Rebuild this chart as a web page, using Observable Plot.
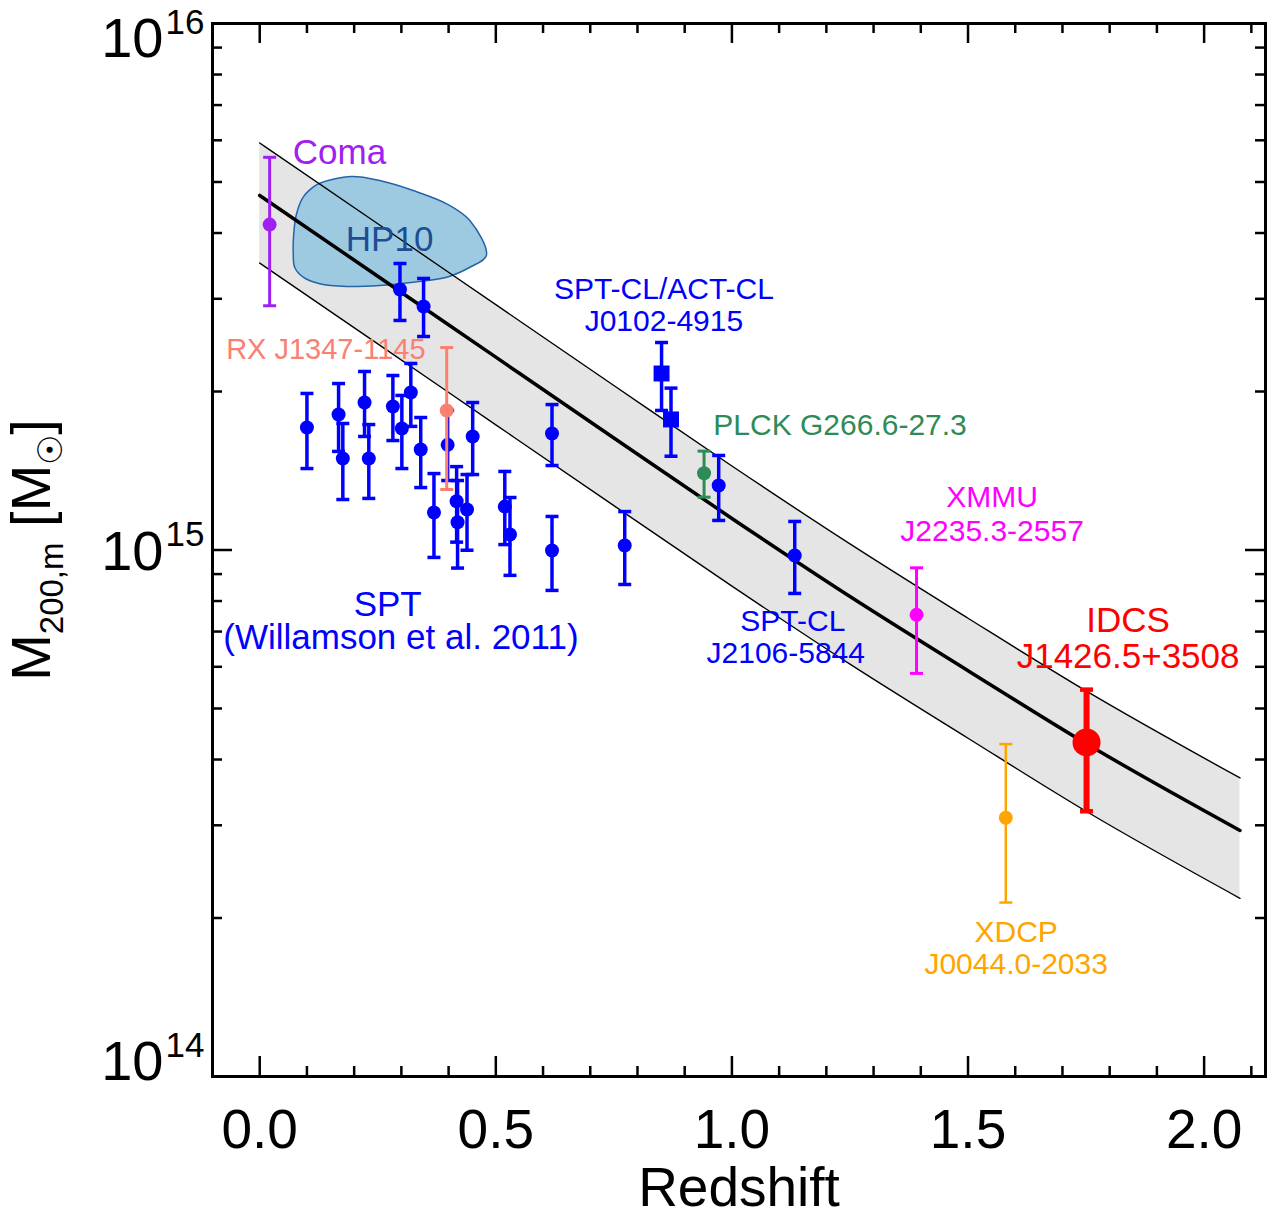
<!DOCTYPE html>
<html><head><meta charset="utf-8">
<script src="https://cdn.jsdelivr.net/npm/d3@7"></script>
<script src="https://cdn.jsdelivr.net/npm/@observablehq/plot@0.6"></script>
<style>body{margin:0;background:#fff}</style>
</head><body><div id="chart"></div>
<script>
// ---- data (mass in units of 1e15 Msun) ----
const curveZ   = [0, 0.25, 0.5, 0.75, 1.0, 1.25, 1.5, 1.75, 2.076];
const curveMid = [4.714, 3.311, 2.324, 1.632, 1.148, 0.816, 0.590, 0.429, 0.2933];
const curveHi  = [5.93, 4.165, 2.924, 2.053, 1.444, 1.027, 0.742, 0.540, 0.369];
const curveLo  = [3.507, 2.464, 1.729, 1.214, 0.854, 0.607, 0.439, 0.319, 0.218];

const hp10Z = [0.127, 0.194, 0.254, 0.325, 0.396, 0.445, 0.480, 0.445, 0.396, 0.325, 0.254, 0.184, 0.127, 0.092, 0.074, 0.071, 0.072, 0.078, 0.092, 0.113];
const hp10M = [4.973, 5.121, 5.032, 4.817, 4.545, 4.224, 3.626, 3.444, 3.297, 3.226, 3.180, 3.166, 3.203, 3.297, 3.444, 3.653, 3.987, 4.351, 4.679, 4.888];

// SPT (Williamson et al. 2011)
const sptZ  = [0.100, 0.167, 0.176, 0.222, 0.231, 0.282, 0.301, 0.320, 0.341, 0.369, 0.398, 0.417, 0.419, 0.439, 0.451, 0.519, 0.530, 0.619, 0.619, 0.773, 0.972, 0.297, 0.347];
const sptM  = [1.709, 1.809, 1.492, 1.906, 1.492, 1.873, 1.701, 1.991, 1.552, 1.178, 1.584, 1.238, 1.129, 1.194, 1.643, 1.209, 1.070, 1.664, 0.998, 1.020, 1.326, 3.125, 2.901];
const sptLo = [1.428, 1.539, 1.247, 1.643, 1.253, 1.614, 1.428, 1.717, 1.314, 0.968, 1.355, 1.035, 0.924, 0.999, 1.391, 1.024, 0.895, 1.447, 0.838, 0.860, 1.138, 2.729, 2.544];
const sptHi = [1.983, 2.071, 1.739, 2.183, 1.731, 2.145, 1.966, 2.261, 1.785, 1.397, 1.841, 1.440, 1.355, 1.391, 1.906, 1.410, 1.258, 1.889, 1.158, 1.183, 1.512, 3.501, 3.279];

// SPT-CL/ACT-CL J0102-4915 (squares)
const elgZ  = [0.851, 0.871];
const elgM  = [2.164, 1.770];
const elgLo = [1.841, 1.507];
const elgHi = [2.478, 2.030];

// individual clusters
const oneName = ["Coma", "RX J1347-1145", "PLCK G266.6-27.3", "XMMU J2235.3-2557", "XDCP J0044.0-2033", "SPT-CL J2106-5844", "IDCS J1426.5+3508"];
const oneZ  = [0.021, 0.396, 0.941, 1.391, 1.580, 1.133, 1.751];
const oneM  = [4.15, 1.841, 1.399, 0.753, 0.310, 0.976, 0.431];
const oneLo = [2.91, 1.303, 1.260, 0.583, 0.214, 0.827, 0.319];
const oneHi = [5.57, 2.424, 1.541, 0.925, 0.428, 1.133, 0.543];

// annotations
const annText = ["Coma", "HP10", "RX J1347-1145", "SPT-CL/ACT-CL", "J0102-4915", "PLCK G266.6-27.3", "XMMU", "J2235.3-2557", "IDCS", "J1426.5+3508", "SPT-CL", "J2106-5844", "SPT", "(Willamson et al. 2011)", "XDCP", "J0044.0-2033"];
const annZ = [0.169, 0.275, 0.140, 0.856, 0.856, 1.229, 1.551, 1.551, 1.839, 1.839, 1.129, 1.114, 0.271, 0.299, 1.602, 1.602];
const annM = [5.69, 3.889, 2.403, 3.125, 2.716, 1.724, 1.258, 1.084, 0.735, 0.628, 0.732, 0.636, 0.788, 0.682, 0.1877, 0.1632];

// axes
const xMajor = [0, 0.5, 1.0, 1.5, 2.0];
const xMinor = [0.1, 0.2, 0.3, 0.4, 0.6, 0.7, 0.8, 0.9, 1.1, 1.2, 1.3, 1.4, 1.6, 1.7, 1.8, 1.9, 2.1];
const yMajor = [0.1, 1, 10];
const yMajorExp = ["14", "15", "16"];
const yMinor = [0.2, 0.3, 0.4, 0.5, 0.6, 0.7, 0.8, 0.9, 2, 3, 4, 5, 6, 7, 8, 9];
const xLabel = "Redshift";
const yLabel = "M200,m [M\u2609]";

// ---- styling ----
const W = 1269, H = 1213, mL = 212, mR = 4, mT = 23, mB = 137;
const plotW = W - mL - mR, plotH = H - mT - mB;
const annColor = {"Coma": "#a020f0", "HP10": "#1c4e94", "RX J1347-1145": "#fa8072", "SPT-CL/ACT-CL": "#0000ff", "J0102-4915": "#0000ff",
  "PLCK G266.6-27.3": "#2e8b57", "XMMU": "#ff00ff", "J2235.3-2557": "#ff00ff", "IDCS": "#ff0000", "J1426.5+3508": "#ff0000",
  "SPT-CL": "#0000ff", "J2106-5844": "#0000ff", "SPT": "#0000ff", "(Willamson et al. 2011)": "#0000ff", "XDCP": "#ffa500", "J0044.0-2033": "#ffa500"};
const annSize = {"Coma": 35, "HP10": 35, "RX J1347-1145": 29, "IDCS": 35, "J1426.5+3508": 35, "SPT": 35, "(Willamson et al. 2011)": 35};
const oneStyle = {
  "Coma": {c: "#a020f0", r: 7, w: 3},
  "RX J1347-1145": {c: "#fa8072", r: 7, w: 3},
  "PLCK G266.6-27.3": {c: "#2e8b57", r: 7, w: 3},
  "XMMU J2235.3-2557": {c: "#ff00ff", r: 7, w: 3},
  "XDCP J0044.0-2033": {c: "#ffa500", r: 7, w: 2.5},
  "SPT-CL J2106-5844": {c: "#0000ff", r: 7, w: 3.5},
  "IDCS J1426.5+3508": {c: "#ff0000", r: 14, w: 6}
};

const capSymbol = {draw(ctx, size) { const w = Math.sqrt(size / Math.PI); ctx.moveTo(-w, 0); ctx.lineTo(w, 0); }};

const curve = curveZ.map((z, i) => ({z, mid: curveMid[i], hi: curveHi[i], lo: curveLo[i]}));
const hp10 = hp10Z.map((z, i) => ({z, m: hp10M[i]}));
const spt = sptZ.map((z, i) => ({z, m: sptM[i], lo: sptLo[i], hi: sptHi[i]}));
const elg = elgZ.map((z, i) => ({z, m: elgM[i], lo: elgLo[i], hi: elgHi[i]}));
const ones = oneName.map((name, i) => ({name, z: oneZ[i], m: oneM[i], lo: oneLo[i], hi: oneHi[i]}));
const ann = annText.map((t, i) => ({t, z: annZ[i], m: annM[i]}));

function errMarks(rows, color, w, capR, capW) {
  return [
    Plot.ruleX(rows, {x: "z", y1: "lo", y2: "hi", stroke: color, strokeWidth: w}),
    Plot.dot(rows, {x: "z", y: "lo", symbol: capSymbol, r: capR, stroke: color, strokeWidth: capW ?? w, fill: "none"}),
    Plot.dot(rows, {x: "z", y: "hi", symbol: capSymbol, r: capR, stroke: color, strokeWidth: capW ?? w, fill: "none"})
  ];
}

const marks = [
  Plot.areaY(curve, {x: "z", y1: "lo", y2: "hi", fill: "#e5e5e5", curve: "monotone-x"}),
  Plot.line(hp10, {x: "z", y: "m", fill: "#9ecae1", stroke: "#2464a8", strokeWidth: 1.5, curve: "catmull-rom-closed"}),
  Plot.line(curve, {x: "z", y: "hi", stroke: "black", strokeWidth: 1.4, curve: "monotone-x"}),
  Plot.line(curve, {x: "z", y: "lo", stroke: "black", strokeWidth: 1.4, curve: "monotone-x"}),
  Plot.line(curve, {x: "z", y: "mid", stroke: "black", strokeWidth: 3.5, curve: "monotone-x"}),
  ...errMarks(spt, "#0000ff", 3.5, 6.5),
  Plot.dot(spt, {x: "z", y: "m", r: 7, fill: "#0000ff"}),
  ...errMarks(elg, "#0000ff", 3.5, 6.5),
  Plot.dot(elg, {x: "z", y: "m", r: 9, symbol: "square", fill: "#0000ff"})
];
for (const o of ones) {
  const s = oneStyle[o.name];
  marks.push(...errMarks([o], s.c, s.w, 6.5, Math.min(s.w, 4.5)));
  marks.push(Plot.dot([o], {x: "z", y: "m", r: s.r, fill: s.c}));
}
for (const a of ann) {
  marks.push(Plot.text([a], {x: "z", y: "m", text: "t", fill: annColor[a.t], fontSize: annSize[a.t] ?? 30}));
}
// ticks (inward, all four sides)
marks.push(
  Plot.tickX(xMajor, {x: d => d, insetTop: plotH - 20, strokeWidth: 2.5}),
  Plot.tickX(xMajor, {x: d => d, insetBottom: plotH - 20, strokeWidth: 2.5}),
  Plot.tickX(xMinor, {x: d => d, insetTop: plotH - 10, strokeWidth: 2.5}),
  Plot.tickX(xMinor, {x: d => d, insetBottom: plotH - 10, strokeWidth: 2.5}),
  Plot.tickY(yMajor, {y: d => d, insetRight: plotW - 20, strokeWidth: 2.5}),
  Plot.tickY(yMajor, {y: d => d, insetLeft: plotW - 20, strokeWidth: 2.5}),
  Plot.tickY(yMinor, {y: d => d, insetRight: plotW - 10, strokeWidth: 2.5}),
  Plot.tickY(yMinor, {y: d => d, insetLeft: plotW - 10, strokeWidth: 2.5}),
  Plot.frame({stroke: "black", strokeWidth: 3})
);
// tick labels
marks.push(Plot.text(xMajor, {x: d => d, frameAnchor: "bottom", lineAnchor: "top", dy: 32, text: d => d.toFixed(1), fontSize: 55, fill: "black"}));
const tenDy = {"16": 16, "15": 2, "14": -14};
yMajor.forEach((v, i) => {
  const e = yMajorExp[i];
  marks.push(Plot.text([v], {y: d => d, frameAnchor: "left", textAnchor: "end", dx: -49, dy: tenDy[e], text: () => "10", fontSize: 56, fill: "black"}));
  marks.push(Plot.text([v], {y: d => d, frameAnchor: "left", textAnchor: "start", dx: -47, dy: tenDy[e] - 17, text: () => e, fontSize: 35, fill: "black"}));
});
marks.push(Plot.text([xLabel], {frameAnchor: "bottom", lineAnchor: "top", dy: 90, text: d => d, fontSize: 55, fill: "black"}));
marks.push(Plot.text([yLabel], {frameAnchor: "left", textAnchor: "middle", dx: -180, rotate: -90, text: d => d, fontSize: 56, fill: "black"}));

const svg = Plot.plot({
  width: W, height: H,
  marginLeft: mL, marginRight: mR, marginTop: mT, marginBottom: mB,
  x: {domain: [-0.1, 2.13], axis: null},
  y: {type: "log", domain: [0.1, 10], axis: null},
  style: {background: "white", fontFamily: "'Liberation Sans', Arial, Helvetica, sans-serif", color: "black"},
  marks
});

// y label with subscripts
const ns = "http://www.w3.org/2000/svg";
for (const t of svg.querySelectorAll("text")) {
  if (t.textContent === yLabel) {
    t.textContent = "";
    const parts = [["M", null, 0], ["200,m", 33, 13], [" [M", null, -13], ["\u2609", 34, 12], ["]", null, -12]];
    for (const [s, fs, dy] of parts) {
      const ts = document.createElementNS(ns, "tspan");
      ts.textContent = s;
      if (fs) ts.setAttribute("font-size", fs);
      if (dy) ts.setAttribute("dy", dy);
      t.appendChild(ts);
    }
  }
}
document.getElementById("chart").appendChild(svg);
</script>
</body></html>
